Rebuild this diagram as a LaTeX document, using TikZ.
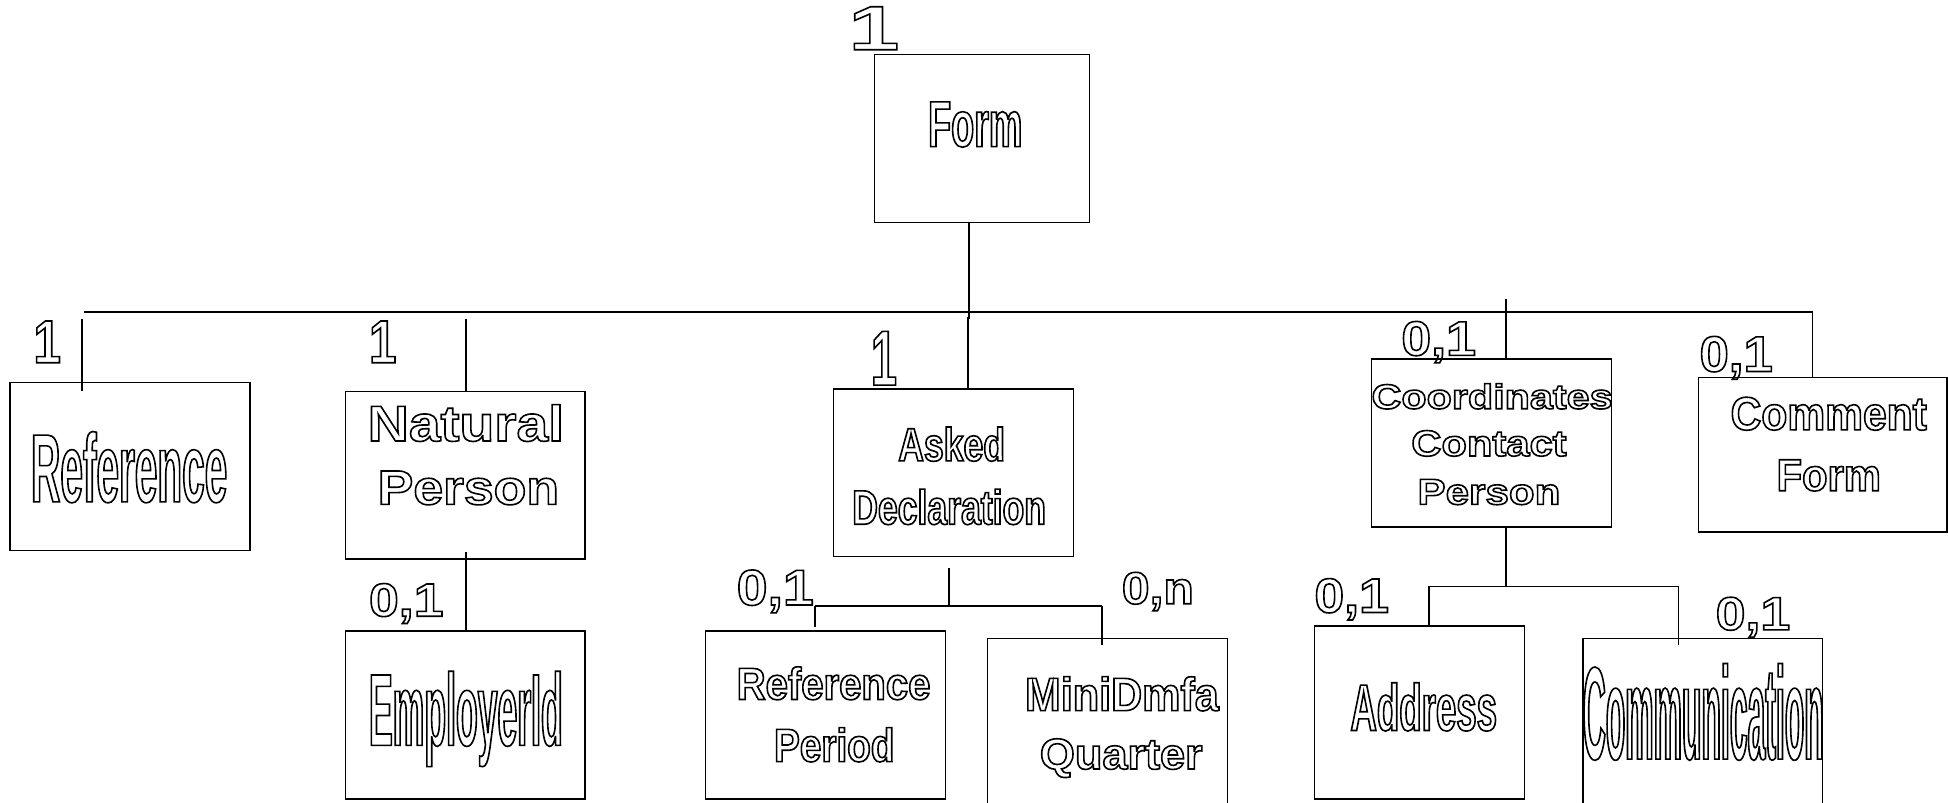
\documentclass[tikz,border=0pt]{standalone}
\usepackage{fontspec}
\setmainfont{Liberation Sans}
\newsavebox\tbox
\newcommand\outl[1]{\special{pdf:literal direct 1 Tr 1.3 w}#1\special{pdf:literal direct 0 Tr}}
\newcommand\T[3]{%
  \pgfmathsetmacro\tfs{#2/0.716}%
  \fontsize{\tfs pt}{\tfs pt}\selectfont\bfseries
  \sbox\tbox{#3}%
  \pgfmathsetmacro\tsx{#1/(\the\wd\tbox)}%
  \edef\tmp{\noexpand\addfontfeatures{FakeStretch=\tsx}}\tmp
  \outl{#3}}
\tikzset{
  box/.style={draw, line width=1.3pt, inner sep=0pt, outer sep=0pt, anchor=north west},
  conn/.style={line width=1.3pt},
  txt/.style={inner sep=0pt, outer sep=0pt, anchor=base}
}
\begin{document}
\begin{tikzpicture}[x=1pt,y=-1pt]
\clip (0,0) rectangle (1568,645.6);
% boxes
\node[box, minimum width=173pt, minimum height=135pt] (form) at (704,44) {};
\node[box, minimum width=193pt, minimum height=135pt] (ref) at (8,308) {};
\node[box, minimum width=193pt, minimum height=135pt] (nat) at (278,315) {};
\node[box, minimum width=193pt, minimum height=135pt] (emp) at (278,508) {};
\node[box, minimum width=193pt, minimum height=135pt] (ask) at (671,313) {};
\node[box, minimum width=193pt, minimum height=135pt] (rper) at (568,508) {};
\node[box, minimum width=193pt, minimum height=150pt] (mini) at (795,514) {};
\node[box, minimum width=193pt, minimum height=135pt] (ccp) at (1104,289) {};
\node[box, minimum width=200pt, minimum height=124pt] (comf) at (1367,304) {};
\node[box, minimum width=169pt, minimum height=139pt] (addr) at (1058,504) {};
\node[box, minimum width=193pt, minimum height=150pt] (comm) at (1274,514) {};
% connector points
\coordinate (fdown) at (780,257);
\coordinate (busL) at (68,251);
\coordinate (busR) at (1459,251);
\coordinate (refT) at (66,257);
\coordinate (refI) at (66,315);
\coordinate (natT) at (375,257);
\coordinate (askT) at (779,255);
\coordinate (ccpT) at (1212,241);
\coordinate (natB) at (375,444);
\coordinate (askB) at (764,457);
\coordinate (askJ) at (764,488);
\coordinate (askL) at (656,488);
\coordinate (askR) at (887,488);
\coordinate (rperI) at (656,505);
\coordinate (miniI) at (887,519);
\coordinate (ccpJ) at (1212,472);
\coordinate (ccpL) at (1150,472);
\coordinate (ccpR) at (1351,472);
\coordinate (commI) at (1351,519);
% connectors
\draw[conn] (form.south -| fdown) -- (fdown);
\draw[conn] (busL) -- (busR) -- (busR |- comf.north);
\draw[conn] (refT) -- (refI);
\draw[conn] (natT) -- (natT |- nat.north);
\draw[conn] (askT) -- (askT |- ask.north);
\draw[conn] (ccpT) -- (ccpT |- ccp.north);
\draw[conn] (natB) -- (natB |- emp.north);
\draw[conn] (askB) -- (askJ);
\draw[conn] (askL) -- (askR);
\draw[conn] (askL) -- (rperI);
\draw[conn] (askR) -- (miniI);
\draw[conn] (ccpJ |- ccp.south) -- (ccpJ);
\draw[conn] (ccpL) -- (ccpR);
\draw[conn] (ccpL) -- (ccpL |- addr.north);
\draw[conn] (ccpR) -- (commI);
% texts
\node[txt] (lForm) at (703.5,40) {\T{41}{36}{1}};
\node[txt] (tForm) at (785,118) {\T{76}{37.5}{Form}};
\node[txt] (lRef) at (38,292) {\T{22}{35}{1}};
\node[txt] (tRef) at (104,404) {\T{158}{56}{Reference}};
\node[txt] (lNat) at (308,292) {\T{22}{35}{1}};
\node[txt] (tNat1) at (375,355) {\T{158}{29}{Natural}};
\node[txt] (tNat2) at (377,406) {\T{146}{28}{Person}};
\node[txt] (lEmp) at (327,496) {\T{60}{27}{0,1}};
\node[txt] (tEmp) at (375,600) {\T{156}{59}{EmployerId}};
\node[txt] (lAsk) at (711.5,310) {\T{21}{45}{1}};
\node[txt] (tAsk1) at (766,371) {\T{86}{27}{Asked}};
\node[txt] (tAsk2) at (764,422) {\T{156}{28}{Declaration}};
\node[txt] (lRper) at (624,487) {\T{62}{29}{0,1}};
\node[txt] (lMini) at (932,486) {\T{58}{26}{0,n}};
\node[txt] (tRper1) at (671,563) {\T{156}{26}{Reference}};
\node[txt] (tRper2) at (671.5,613) {\T{97}{27}{Period}};
\node[txt] (tMini1) at (903,572) {\T{156}{27}{MiniDmfa}};
\node[txt] (tMini2) at (902.5,619) {\T{131}{25}{Quarter}};
\node[txt] (lCcp) at (1158,286) {\T{60}{28}{0,1}};
\node[txt] (tCcp1) at (1201,329) {\T{194}{20}{Coordinates}};
\node[txt] (tCcp2) at (1198.5,367) {\T{125}{21}{Contact}};
\node[txt] (tCcp3) at (1198.5,406) {\T{115}{21}{Person}};
\node[txt] (lComf) at (1397.5,299) {\T{59}{29}{0,1}};
\node[txt] (tComf1) at (1472,346) {\T{158}{27}{Comment}};
\node[txt] (tComf2) at (1472,395) {\T{84}{26}{Form}};
\node[txt] (lAddr) at (1088,493) {\T{60}{28}{0,1}};
\node[txt] (tAddr) at (1146,588) {\T{118}{38}{Address}};
\node[txt] (lComm) at (1411,507) {\T{60}{27}{0,1}};
\node[txt] (tComm) at (1371,611) {\T{194}{76}{Communication}};
\end{tikzpicture}
\end{document}
